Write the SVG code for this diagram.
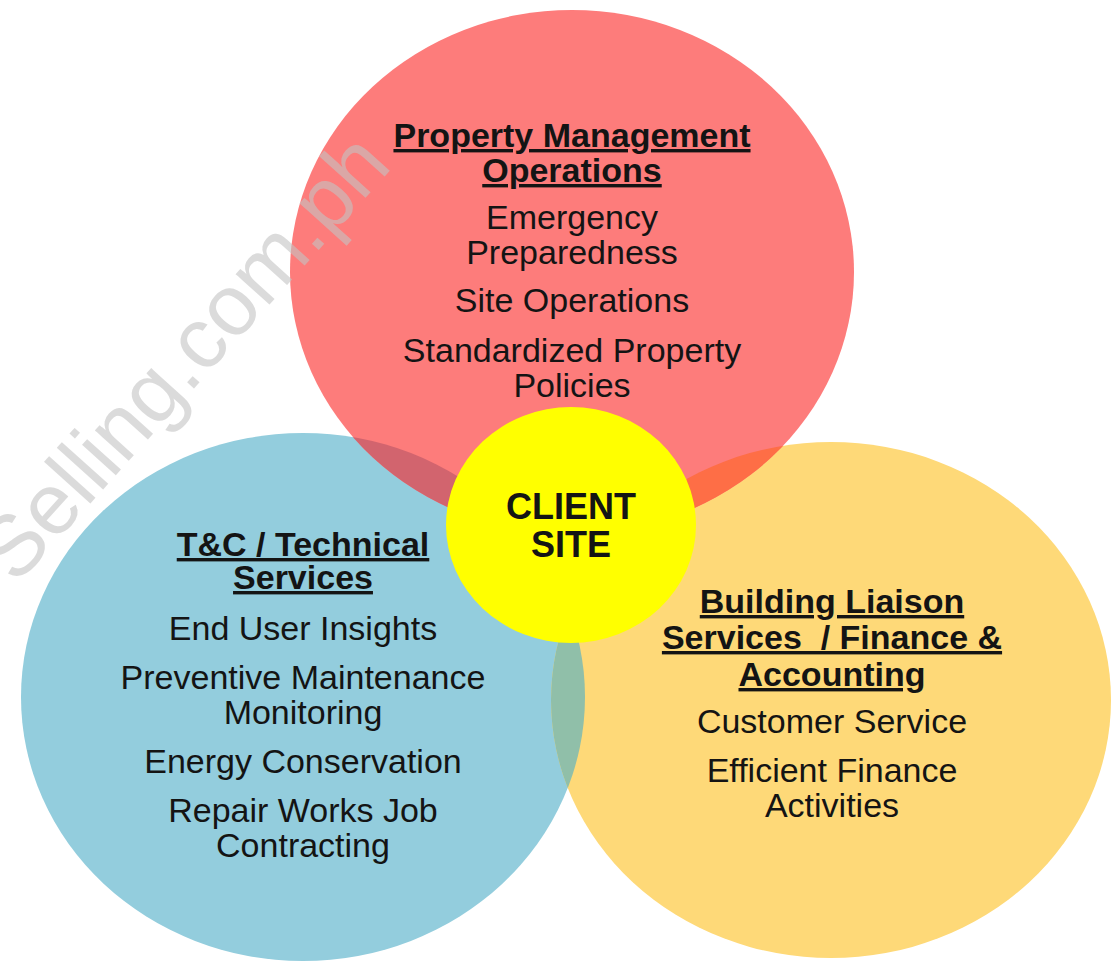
<svg xmlns="http://www.w3.org/2000/svg" width="1112" height="970" viewBox="0 0 1112 970">
  <defs>
    <style>
      .t { font-family: "Liberation Sans", Arial, sans-serif; font-size: 34px; fill: #141414; text-anchor: middle; }
      .h { font-weight: bold; text-decoration: underline; white-space: pre; }
      .c { font-family: "Liberation Sans", Arial, sans-serif; font-size: 36px; font-weight: bold; fill: #141414; text-anchor: middle; }
      .wm { font-family: "Liberation Sans", Arial, sans-serif; font-size: 86px; fill: #c4c4c4; opacity: 0.6; }
    </style>
    <clipPath id="clipRed"><ellipse cx="572" cy="272" rx="282" ry="262"/></clipPath>
    <clipPath id="clipBlue"><ellipse cx="303" cy="697" rx="282" ry="264"/></clipPath>
  </defs>
  <rect width="1112" height="970" fill="#ffffff"/>

  <g id="circles">
    <ellipse id="blue-circle" cx="303" cy="697" rx="282" ry="264" fill="#93CDDD"/>
    <ellipse id="gold-circle" cx="831" cy="700" rx="280" ry="258" fill="#FED978"/>
    <ellipse id="red-circle" cx="572" cy="272" rx="282" ry="262" fill="#FD7C7B"/>
    <ellipse cx="303" cy="697" rx="282" ry="264" fill="#D2646E" clip-path="url(#clipRed)"/>
    <ellipse cx="831" cy="700" rx="280" ry="258" fill="#FE6E46" clip-path="url(#clipRed)"/>
    <ellipse cx="831" cy="700" rx="280" ry="258" fill="#90BFA9" clip-path="url(#clipBlue)"/>
  </g>

  <g id="connectors"></g>

  <g id="node-property">
    <text class="t h" x="572" y="147">Property Management</text>
    <text class="t h" x="572" y="182">Operations</text>
    <text class="t" x="572" y="229">Emergency</text>
    <text class="t" x="572" y="264">Preparedness</text>
    <text class="t" x="572" y="312">Site Operations</text>
    <text class="t" x="572" y="362">Standardized Property</text>
    <text class="t" x="572" y="397">Policies</text>
  </g>

  <g id="node-technical">
    <text class="t h" x="303" y="556">T&amp;C / Technical</text>
    <text class="t h" x="303" y="589">Services</text>
    <text class="t" x="303" y="640">End User Insights</text>
    <text class="t" x="303" y="689">Preventive Maintenance</text>
    <text class="t" x="303" y="724">Monitoring</text>
    <text class="t" x="303" y="773">Energy Conservation</text>
    <text class="t" x="303" y="822">Repair Works Job</text>
    <text class="t" x="303" y="857">Contracting</text>
  </g>

  <g id="node-building">
    <text class="t h" x="832" y="613">Building Liaison</text>
    <text class="t h" x="832" y="649" xml:space="preserve">Services  / Finance &amp;</text>
    <text class="t h" x="832" y="686">Accounting</text>
    <text class="t" x="832" y="733">Customer Service</text>
    <text class="t" x="832" y="782">Efficient Finance</text>
    <text class="t" x="832" y="817">Activities</text>
  </g>

  <g id="node-client">
    <ellipse cx="571" cy="525" rx="125" ry="118" fill="#FFFF00"/>
    <text class="c" x="571" y="519">CLIENT</text>
    <text class="c" x="571" y="557">SITE</text>
  </g>

  <g id="watermark">
    <text class="wm" x="16" y="586" transform="rotate(-48 16 586)">Selling.com.ph</text>
  </g>
</svg>
